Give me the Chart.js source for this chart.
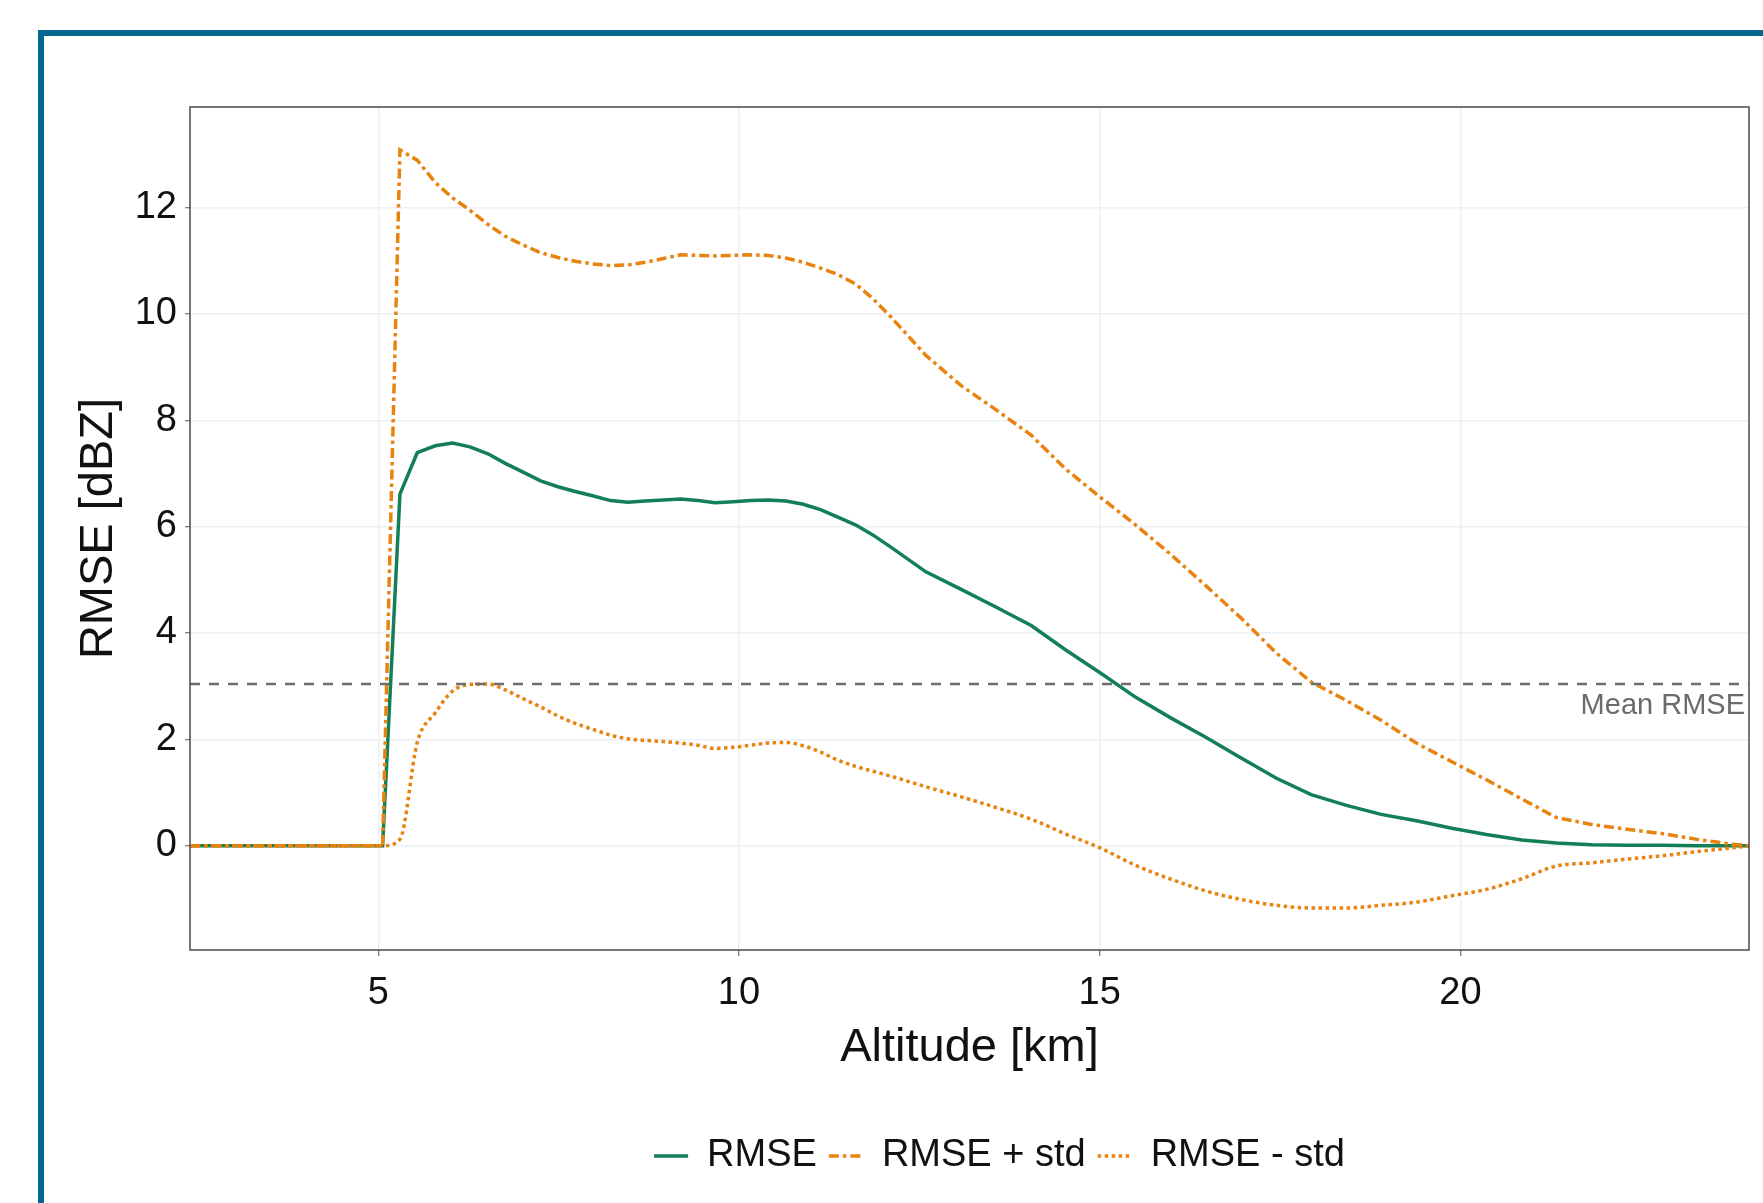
<!DOCTYPE html>
<html>
<head>
<meta charset="utf-8">
<script src="https://cdn.jsdelivr.net/npm/chart.js@4.4.1/dist/chart.umd.min.js"></script>
<style>
  html, body { margin: 0; padding: 0; background: #ffffff; overflow: hidden; width: 1763px; height: 1203px; }
  #frame { position: absolute; left: 38px; top: 30px; width: 2000px; height: 2000px;
           border-left: 6px solid #03678f; border-top: 6px solid #03678f; box-sizing: border-box; }
  #c { position: absolute; left: 0; top: 0; }
</style>
</head>
<body>
<div id="frame"></div>
<canvas id="c" width="1763" height="1203"></canvas>
<script>
// ---------------- data ----------------
const altitudes = [2.39, 5.06, 5.30, 5.54, 5.79, 6.03, 6.27, 6.52, 6.76, 7.00, 7.25, 7.49, 7.73, 7.97,
  8.22, 8.46, 8.70, 8.95, 9.19, 9.43, 9.67, 9.92, 10.16, 10.40, 10.65, 10.89, 11.13, 11.37, 11.62,
  11.86, 12.10, 12.59, 13.08, 13.56, 14.05, 14.53, 15.02, 15.50, 15.99, 16.47, 16.96, 17.45, 17.93,
  18.42, 18.90, 19.39, 19.88, 20.36, 20.85, 21.33, 21.82, 22.31, 22.79, 23.28, 23.76, 24.00];

const rmse = [0, 0, 6.61, 7.39, 7.52, 7.57, 7.50, 7.37, 7.19, 7.03, 6.86, 6.75, 6.66, 6.58,
  6.49, 6.46, 6.48, 6.50, 6.52, 6.49, 6.45, 6.47, 6.49, 6.50, 6.48, 6.42, 6.32, 6.18, 6.03,
  5.84, 5.62, 5.15, 4.82, 4.49, 4.14, 3.68, 3.24, 2.79, 2.40, 2.04, 1.65, 1.27, 0.96,
  0.76, 0.59, 0.47, 0.33, 0.21, 0.11, 0.05, 0.02, 0.01, 0.01, 0, 0, 0];

const rmsePlusStd = [0, 0, 13.08, 12.89, 12.47, 12.18, 11.95, 11.68, 11.46, 11.30, 11.15, 11.06, 10.99, 10.94,
  10.91, 10.92, 10.97, 11.04, 11.11, 11.10, 11.09, 11.10, 11.11, 11.10, 11.05, 10.97, 10.86, 10.74, 10.56,
  10.28, 9.95, 9.22, 8.65, 8.20, 7.72, 7.08, 6.54, 6.03, 5.47, 4.89, 4.28, 3.62, 3.08,
  2.73, 2.36, 1.93, 1.58, 1.24, 0.88, 0.53, 0.40, 0.31, 0.23, 0.12, 0.03, 0];

const rmseMinusStd = [0, 0, 0.12, 1.94, 2.50, 2.91, 3.03, 3.04, 2.93, 2.77, 2.61, 2.44, 2.30, 2.19,
  2.08, 2.01, 1.98, 1.96, 1.93, 1.89, 1.83, 1.85, 1.89, 1.93, 1.94, 1.88, 1.76, 1.61, 1.49,
  1.40, 1.31, 1.11, 0.92, 0.72, 0.50, 0.22, -0.05, -0.37, -0.63, -0.85, -1.01, -1.12, -1.17,
  -1.17, -1.12, -1.06, -0.94, -0.82, -0.62, -0.38, -0.32, -0.25, -0.19, -0.11, -0.04, 0];

const meanRmse = 3.04;
const seriesLabels = ['RMSE', 'RMSE + std', 'RMSE - std'];
const meanLabel = 'Mean RMSE';
const xTitle = 'Altitude [km]';
const yTitle = 'RMSE [dBZ]';
const xTickStep = 5;
const yTickStep = 2;
const yMin = -1.96;
const yMax = 13.89;

// ---------------- chart ----------------
const FONT = '"Liberation Sans", Arial, Helvetica, sans-serif';
const GREEN = '#137f57';
const ORANGE = '#e8830f';
const pts = (arr) => altitudes.map((a, i) => ({ x: a, y: arr[i] }));

const extras = {
  id: 'extras',
  afterLayout(chart) {
    const lg = chart.legend;
    if (lg) { lg.left += 125; lg.right += 125; }
  },
  afterDraw(chart) {
    const { ctx, chartArea: a, scales } = chart;
    ctx.save();
    ctx.strokeStyle = '#4a4a4a';
    ctx.lineWidth = 1.5;
    ctx.strokeRect(a.left, a.top, a.right - a.left, a.bottom - a.top);
    const yy = scales.y.getPixelForValue(meanRmse);
    ctx.font = '29px ' + FONT;
    ctx.fillStyle = '#6b6b6b';
    ctx.textAlign = 'right';
    ctx.textBaseline = 'alphabetic';
    ctx.fillText(meanLabel, a.right - 4, yy + 30);
    ctx.restore();
  }
};

new Chart(document.getElementById('c'), {
  type: 'line',
  data: {
    datasets: [
      { label: seriesLabels[0], data: pts(rmse), borderColor: GREEN, backgroundColor: GREEN,
        borderWidth: 3.5, pointRadius: 0, tension: 0, order: 3 },
      { label: seriesLabels[1], data: pts(rmsePlusStd), borderColor: ORANGE, backgroundColor: ORANGE,
        borderWidth: 3.5, borderDash: [10, 4, 3.5, 4], pointRadius: 0, tension: 0, order: 2 },
      { label: seriesLabels[2], data: pts(rmseMinusStd), borderColor: ORANGE, backgroundColor: ORANGE,
        borderWidth: 3.5, borderDash: [3.5, 3.5], pointRadius: 0, cubicInterpolationMode: 'monotone', order: 1 },
      { label: meanLabel, data: [{ x: altitudes[0], y: meanRmse }, { x: altitudes[altitudes.length - 1], y: meanRmse }],
        borderColor: '#6e6e6e', borderWidth: 2.4, borderDash: [10, 9], pointRadius: 0, order: 0 }
    ]
  },
  options: {
    responsive: false,
    animation: false,
    devicePixelRatio: 1,
    layout: { padding: { left: 0, right: 14, top: 107, bottom: 18 } },
    scales: {
      x: {
        type: 'linear',
        min: altitudes[0],
        max: altitudes[altitudes.length - 1],
        afterFit(s) { s.height = 175; },
        border: { display: false },
        grid: { color: '#ecf0f7', lineWidth: 1.5, tickColor: '#555', tickLength: 6, tickWidth: 1 },
        ticks: { stepSize: xTickStep, includeBounds: false, padding: 15, maxRotation: 0,
                 color: '#111', font: { size: 38, family: FONT } },
        title: { display: true, text: xTitle, color: '#111', font: { size: 47, family: FONT },
                 padding: { top: 0, bottom: 49 } }
      },
      y: {
        type: 'linear',
        min: yMin,
        max: yMax,
        afterFit(s) { s.width = 190; },
        border: { display: false },
        grid: { color: '#ecf0f7', lineWidth: 1.5, tickColor: '#555', tickLength: 5, tickWidth: 1 },
        ticks: { stepSize: yTickStep, includeBounds: false, padding: 8,
                 color: '#111', font: { size: 38, family: FONT } },
        title: { display: true, text: yTitle, color: '#111', font: { size: 47, family: FONT },
                 padding: { top: 71, bottom: 0 } }
      }
    },
    plugins: {
      tooltip: { enabled: false },
      legend: {
        position: 'bottom',
        labels: {
          usePointStyle: true,
          pointStyle: 'line',
          pointStyleWidth: 34,
          padding: 12,
          color: '#111',
          font: { size: 38, family: FONT },
          generateLabels(chart) {
            const items = Chart.defaults.plugins.legend.labels.generateLabels(chart);
            items.forEach((it) => {
              const ds = chart.data.datasets[it.datasetIndex];
              it.lineDash = ds.borderDash || [];
              it.lineWidth = ds.borderWidth;
              it.strokeStyle = ds.borderColor;
            });
            return items;
          },
          filter: (item) => item.text !== meanLabel,
          sort: (a, b) => a.datasetIndex - b.datasetIndex
        }
      }
    }
  },
  plugins: [extras]
});
</script>
</body>
</html>
